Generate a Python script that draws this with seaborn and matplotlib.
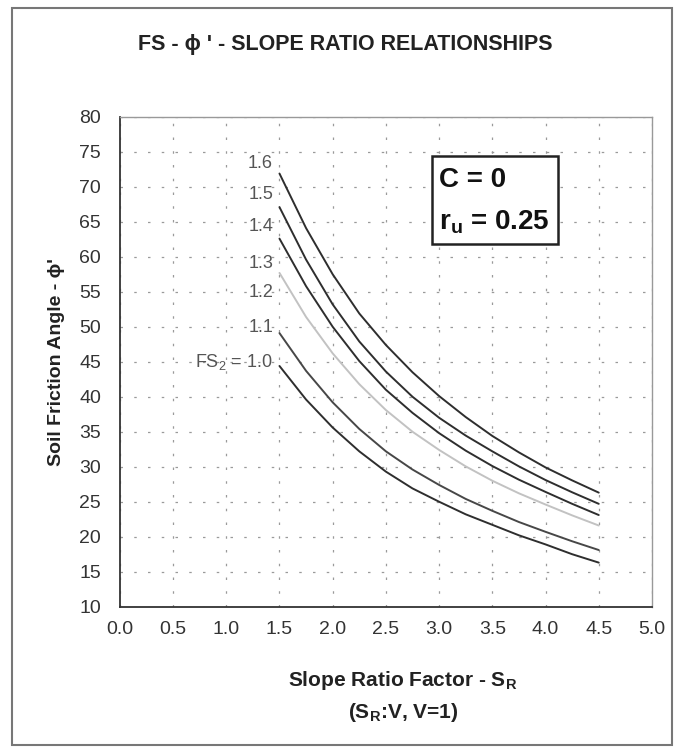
import numpy as np
import pandas as pd
import matplotlib
matplotlib.use("Agg")
import matplotlib.pyplot as plt
import seaborn as sns
from matplotlib.patches import Rectangle

# slope ratio factor S_R (x) and friction angle (y)
slope_ratio = [1.5, 1.75, 2.0, 2.25, 2.5, 2.75, 3.0, 3.25, 3.5, 3.75, 4.0, 4.25, 4.5]
phi_fs_16 = [71.9, 64.1, 57.5, 51.9, 47.4, 43.5, 40.1, 37.1, 34.4, 32.05, 29.9, 28.05, 26.3]
phi_fs_15 = [67.1, 59.6, 53.2, 47.9, 43.6, 40.0, 37.0, 34.45, 32.2, 30.05, 28.1, 26.35, 24.7]
phi_fs_14 = [62.6, 55.8, 50.0, 45.1, 41.0, 37.7, 34.8, 32.3, 30.1, 28.15, 26.4, 24.7, 23.1]
phi_fs_13 = [57.7, 51.4, 46.2, 41.8, 38.1, 35.0, 32.4, 30.05, 28.0, 26.2, 24.6, 23.05, 21.6]
phi_fs_11 = [49.1, 43.7, 39.2, 35.4, 32.2, 29.6, 27.4, 25.4, 23.7, 22.1, 20.7, 19.35, 18.1]
phi_fs_10 = [44.4, 39.6, 35.6, 32.2, 29.3, 26.9, 25.0, 23.2, 21.7, 20.2, 18.9, 17.5, 16.3]

curve_names = ["1.6", "1.5", "1.4", "1.3", "1.1", "1.0"]
curve_values = [phi_fs_16, phi_fs_15, phi_fs_14, phi_fs_13, phi_fs_11, phi_fs_10]
curve_colors = ["#2e2e2e", "#2e2e2e", "#2e2e2e", "#c2c2c2", "#474747", "#2e2e2e"]

# labels written beside the curve starts
fs_labels = ["1.6", "1.5", "1.4", "1.3", "1.2", "1.1", "FS$_2$ = 1.0"]
fs_label_y = [73.4, 68.9, 64.3, 59.1, 54.9, 49.9, 44.9]

x_ticks = [0.0, 0.5, 1.0, 1.5, 2.0, 2.5, 3.0, 3.5, 4.0, 4.5, 5.0]
y_ticks = [10, 15, 20, 25, 30, 35, 40, 45, 50, 55, 60, 65, 70, 75, 80]

rows = []
for name, vals in zip(curve_names, curve_values):
    for sr, phi in zip(slope_ratio, vals):
        rows.append({"SR": sr, "phi": phi, "FS": name})
df = pd.DataFrame(rows)

sns.set_style("white")
plt.rcParams["font.family"] = ["Liberation Sans", "DejaVu Sans"]
plt.rcParams["mathtext.fontset"] = "custom"
plt.rcParams["mathtext.rm"] = "Liberation Sans"
plt.rcParams["mathtext.bf"] = "Liberation Sans:bold"

fig = plt.figure(figsize=(6.77, 7.49), dpi=100)
ax = fig.add_axes([0.177, 0.19, 0.786, 0.654])

sns.lineplot(data=df, x="SR", y="phi", hue="FS", palette=dict(zip(curve_names, curve_colors)),
             linewidth=1.4, legend=False, ax=ax)

ax.set_xlim(0, 5)
ax.set_ylim(10, 80)
ax.set_xticks(x_ticks)
ax.set_yticks(y_ticks)
ax.set_xticklabels([f"{t:.1f}" for t in x_ticks])
ax.tick_params(axis="both", labelsize=14, labelcolor="#333333", colors="#555555")
ax.tick_params(axis="y", direction="inout", length=9, width=0.8, pad=9)
ax.tick_params(axis="x", direction="in", length=5, width=0.8, pad=10)
ax.grid(True, color="#9a9a9a", linestyle=(0, (2, 9)), linewidth=0.9)
ax.set_xlabel("")
ax.set_ylabel("Soil Friction Angle - \u03d5'", fontsize=14, fontweight="bold",
              color="#222222", labelpad=10)

for side in ["left", "bottom"]:
    ax.spines[side].set_color("#333333")
    ax.spines[side].set_linewidth(1.3)
for side in ["top", "right"]:
    ax.spines[side].set_color("#999999")
    ax.spines[side].set_linewidth(1.0)

# FS labels beside the curves
for lab, yy in zip(fs_labels, fs_label_y):
    ax.text(1.44, yy, lab, ha="right", va="center", fontsize=13, color="#555555")

# parameter box
ax.add_patch(Rectangle((2.93, 61.9), 1.19, 12.5, fill=True, facecolor="white",
                       edgecolor="#222222", linewidth=1.8, zorder=5))
ax.text(3.0, 71.0, "C = 0", fontsize=20, fontweight="bold", ha="left", va="center",
        color="#111111", zorder=6)
ax.text(3.0, 65.0, r"r$_\mathbf{u}$ = 0.25", fontsize=20, fontweight="bold", ha="left",
        va="center", color="#111111", zorder=6)

fig.text(0.51, 0.94, "FS - \u03d5 ' - SLOPE RATIO RELATIONSHIPS", ha="center", va="center",
         fontsize=15.5, fontweight="bold", color="#222222")
fig.text(0.595, 0.092, r"Slope Ratio Factor - S$_\mathbf{R}$", ha="center", va="center",
         fontsize=15, fontweight="bold", color="#222222")
fig.text(0.595, 0.049, r"(S$_\mathbf{R}$:V, V=1)", ha="center", va="center",
         fontsize=15, fontweight="bold", color="#222222")

# outer frame of the figure
fig.patches.append(Rectangle((0.018, 0.006), 0.975, 0.983, transform=fig.transFigure,
                             fill=False, edgecolor="#777777", linewidth=1.5))

fig.savefig("out.png", dpi=100)
